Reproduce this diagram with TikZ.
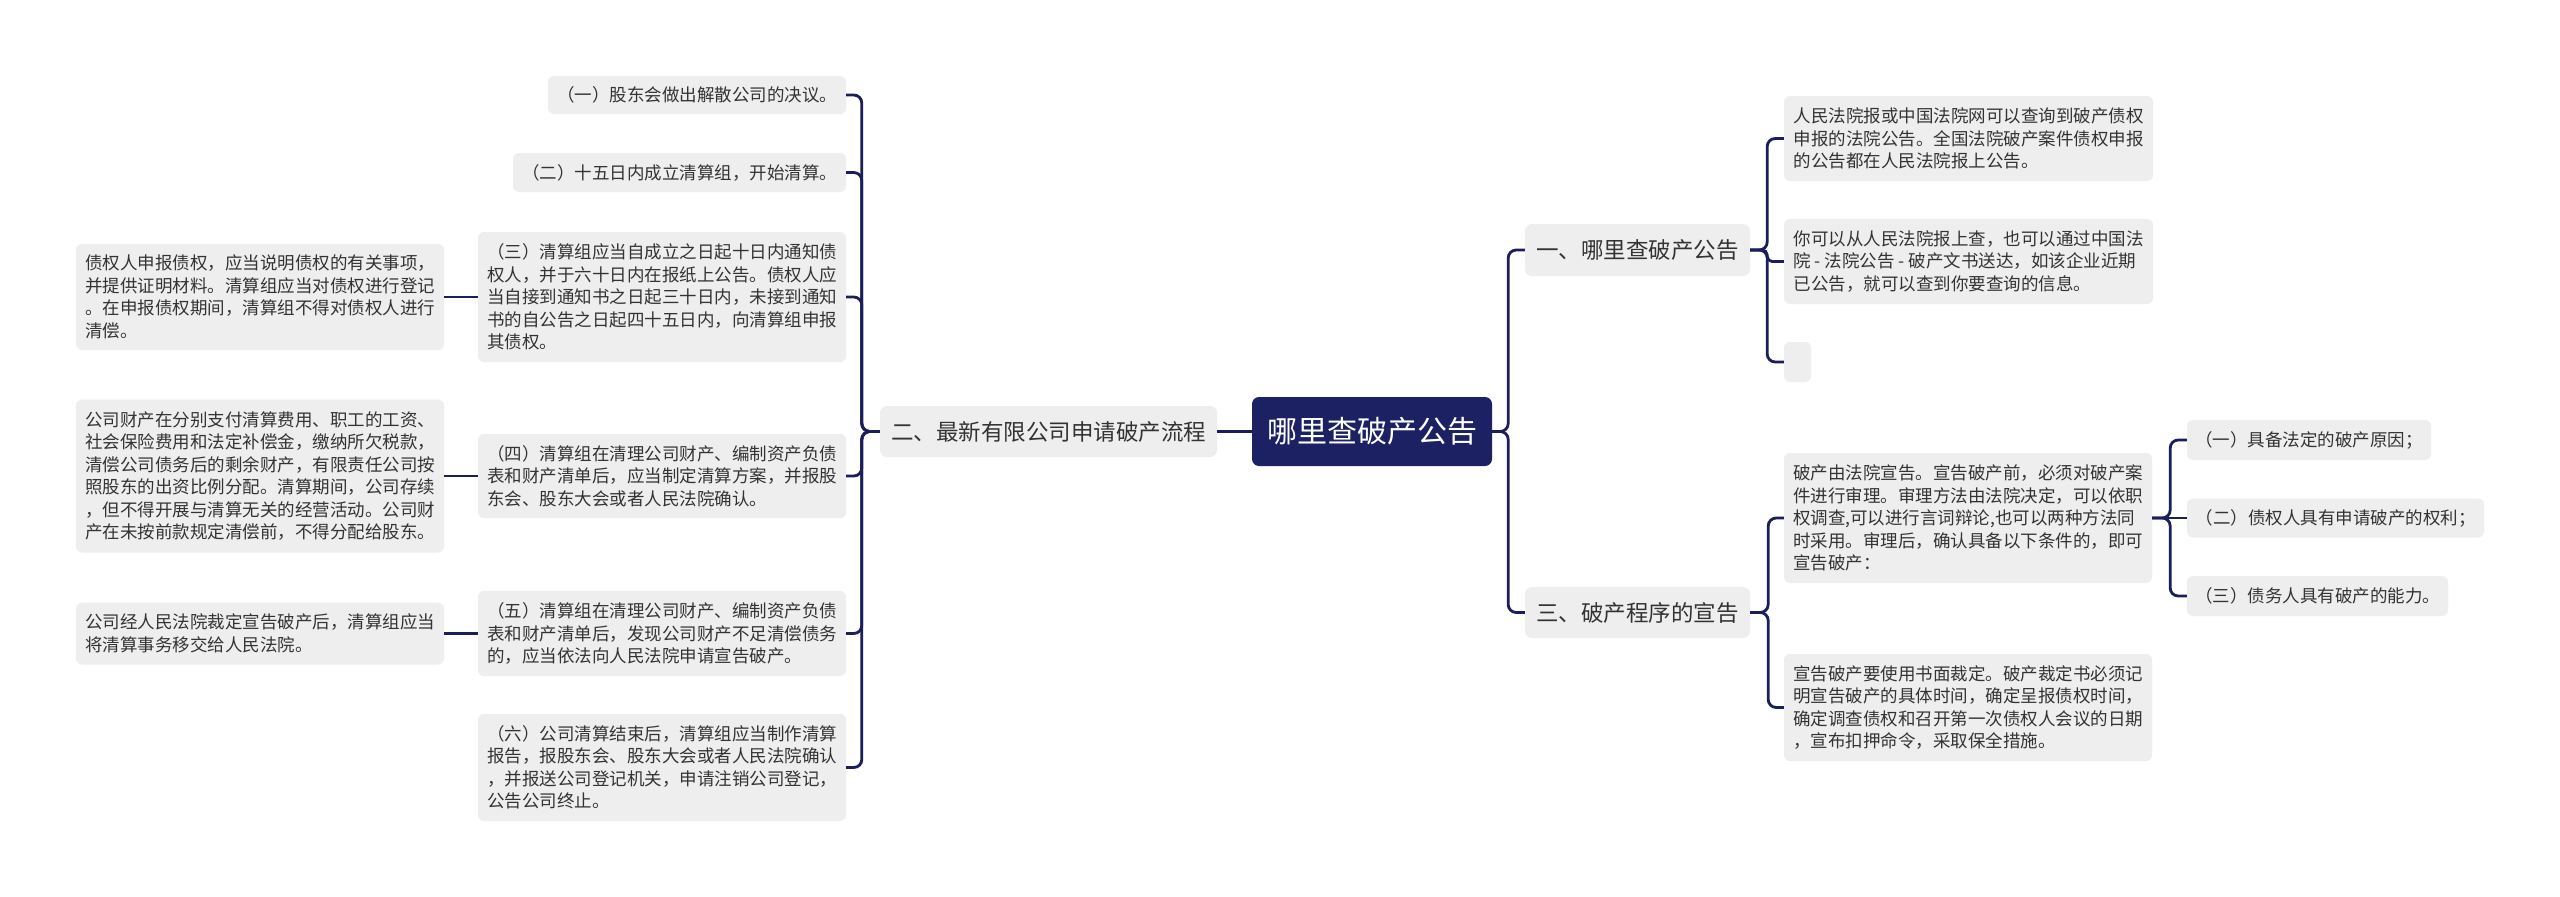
\documentclass[tikz,border=0pt]{standalone}
\usepackage{fontspec}
\newfontfamily\cjk{Noto Sans CJK SC}
\definecolor{navy}{HTML}{1B2163}
\definecolor{linec}{HTML}{1A1F5C}
\definecolor{boxgray}{HTML}{EEEEEE}
\definecolor{txt}{HTML}{333333}
\tikzset{
  box/.style={fill=boxgray, rounded corners=6pt, inner xsep=8pt, inner ysep=0pt, align=left, text=txt, font=\cjk\fontsize{17.5}{22.5}\selectfont},
  topic/.style={fill=boxgray, rounded corners=7pt, inner xsep=8pt, inner ysep=0pt, align=center, text=txt, font=\cjk\fontsize{22.5}{28}\selectfont},
  root/.style={fill=navy, rounded corners=7pt, inner sep=0pt, align=center, text=white, font=\cjk\fontsize{30}{36}\selectfont},
  conn/.style={draw=linec, line width=2.8pt, rounded corners=8pt},
}
\begin{document}
\begin{tikzpicture}[x=1pt,y=-1pt]
\fill[white] (0,0) rectangle (2560,897);
\useasboundingbox (0,0) rectangle (2560,897);

% root
\node[root, minimum width=240pt, minimum height=69pt] (c) at (1372,431.5) {哪里查破产公告};

% left branch
\node[topic, minimum width=337pt, minimum height=51pt] (b2) at (1048.5,431.5) {二、最新有限公司申请破产流程};

\node[box, minimum width=298pt, minimum height=38pt] (n1) at (697,95) {（一）股东会做出解散公司的决议。};
\node[box, minimum width=333pt, minimum height=39pt] (n2) at (679.5,172.5) {（二）十五日内成立清算组，开始清算。};
\node[box, minimum width=368pt, minimum height=130pt] (n3) at (662,297) {（三）清算组应当自成立之日起十日内通知债\\权人，并于六十日内在报纸上公告。债权人应\\当自接到通知书之日起三十日内，未接到通知\\书的自公告之日起四十五日内，向清算组申报\\其债权。};
\node[box, minimum width=368pt, minimum height=84pt] (n4) at (662,476) {（四）清算组在清理公司财产、编制资产负债\\表和财产清单后，应当制定清算方案，并报股\\东会、股东大会或者人民法院确认。};
\node[box, minimum width=368pt, minimum height=85pt] (n5) at (662,633.5) {（五）清算组在清理公司财产、编制资产负债\\表和财产清单后，发现公司财产不足清偿债务\\的，应当依法向人民法院申请宣告破产。};
\node[box, minimum width=368pt, minimum height=107pt] (n6) at (662,767.5) {（六）公司清算结束后，清算组应当制作清算\\报告，报股东会、股东大会或者人民法院确认\\，并报送公司登记机关，申请注销公司登记，\\公告公司终止。};

\node[box, minimum width=368pt, minimum height=106pt] (m3) at (260,297) {债权人申报债权，应当说明债权的有关事项，\\并提供证明材料。清算组应当对债权进行登记\\。在申报债权期间，清算组不得对债权人进行\\清偿。};
\node[box, minimum width=368pt, minimum height=153pt] (m4) at (260,476) {公司财产在分别支付清算费用、职工的工资、\\社会保险费用和法定补偿金，缴纳所欠税款，\\清偿公司债务后的剩余财产，有限责任公司按\\照股东的出资比例分配。清算期间，公司存续\\，但不得开展与清算无关的经营活动。公司财\\产在未按前款规定清偿前，不得分配给股东。};
\node[box, minimum width=368pt, minimum height=62pt] (m5) at (260,633.5) {公司经人民法院裁定宣告破产后，清算组应当\\将清算事务移交给人民法院。};

% right branches
\node[topic, minimum width=225pt, minimum height=52pt] (r1) at (1637.5,250) {一、哪里查破产公告};
\node[topic, minimum width=225pt, minimum height=51pt] (r3) at (1637.5,612.5) {三、破产程序的宣告};

\node[box, minimum width=369pt, minimum height=85pt] (r1a) at (1968.5,138.5) {人民法院报或中国法院网可以查询到破产债权\\申报的法院公告。全国法院破产案件债权申报\\的公告都在人民法院报上公告。};
\node[box, minimum width=369pt, minimum height=85pt] (r1b) at (1968.5,261.5) {你可以从人民法院报上查，也可以通过中国法\\院 - 法院公告 - 破产文书送达，如该企业近期\\已公告，就可以查到你要查询的信息。};
\node[fill=boxgray, rounded corners=6pt, inner sep=0pt, minimum width=27pt, minimum height=40pt] (r1c) at (1797.5,362) {};

\node[box, minimum width=368pt, minimum height=130pt] (r3a) at (1968,518) {破产由法院宣告。宣告破产前，必须对破产案\\件进行审理。审理方法由法院决定，可以依职\\权调查,可以进行言词辩论,也可以两种方法同\\时采用。审理后，确认具备以下条件的，即可\\宣告破产：};
\node[box, minimum width=368pt, minimum height=107pt] (r3b) at (1968,707.5) {宣告破产要使用书面裁定。破产裁定书必须记\\明宣告破产的具体时间，确定呈报债权时间，\\确定调查债权和召开第一次债权人会议的日期\\，宣布扣押命令，采取保全措施。};

\node[box, minimum width=244pt, minimum height=40pt] (q1) at (2309,440) {（一）具备法定的破产原因；};
\node[box, minimum width=297pt, minimum height=39pt] (q2) at (2335.5,518) {（二）债权人具有申请破产的权利；};
\node[box, minimum width=261pt, minimum height=40pt] (q3) at (2317.5,596) {（三）债务人具有破产的能力。};

% connectors
\draw[conn] (c.west) -- (b2.east);
\foreach \n in {n1,n2,n3,n4,n5,n6}{
  \draw[conn] (b2.west) -- ++(-18,0) |- (\n.east);
}
\draw[conn] (n3.west) -- (m3.east);
\draw[conn] (n4.west) -- (m4.east);
\draw[conn] (n5.west) -- (m5.east);

\draw[conn] (c.east) -- ++(16,0) |- (r1.west);
\draw[conn] (c.east) -- ++(16,0) |- (r3.west);

\draw[conn] (r1.east) -- ++(17,0) |- (r1a.west);
\draw[conn, rounded corners=5pt] (r1.east) -- ++(17,0) |- (r1b.west);
\draw[conn] (r1.east) -- ++(17,0) |- (r1c.west);

\draw[conn] (r3.east) -- ++(18,0) |- (r3a.west);
\draw[conn] (r3.east) -- ++(18,0) |- (r3b.west);

\draw[conn] (r3a.east) -- ++(18,0) |- (q1.west);
\draw[conn] (r3a.east) -- (q2.west);
\draw[conn] (r3a.east) -- ++(18,0) |- (q3.west);
\end{tikzpicture}
\end{document}
